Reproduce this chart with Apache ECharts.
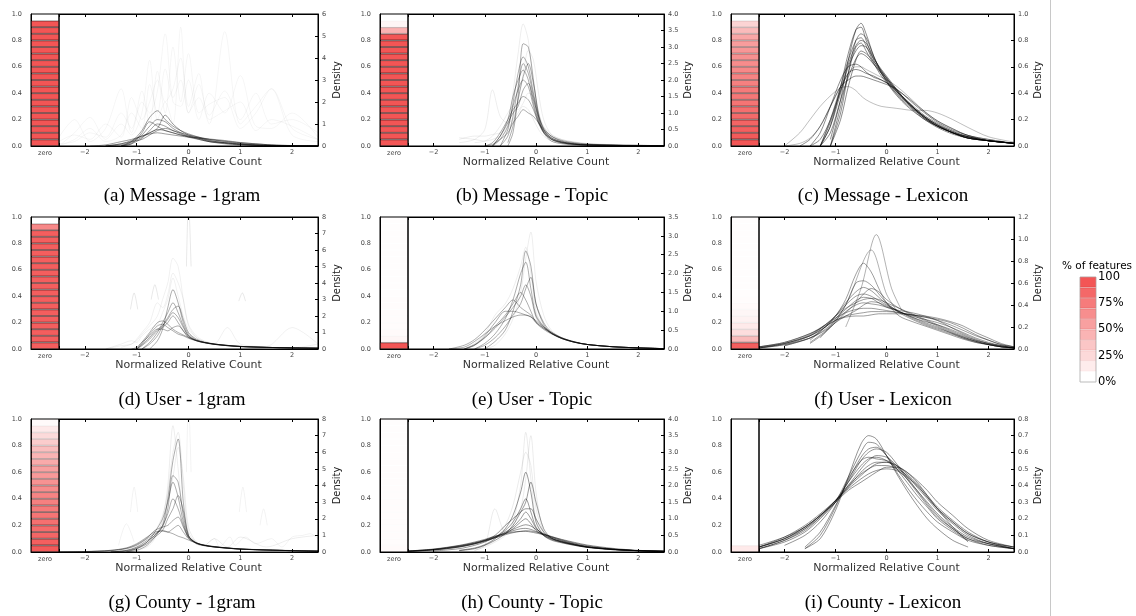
<!DOCTYPE html>
<html><head><meta charset="utf-8">
<script src="https://cdn.jsdelivr.net/npm/echarts@6/dist/echarts.min.js"></script>
<style>html,body{margin:0;padding:0;background:#fff}#c{width:1136px;height:616px}</style>
</head><body><div id="c"></div>
<script>
// ---------- DATA ----------
const captions = ['(a) Message - 1gram','(b) Message - Topic','(c) Message - Lexicon','(d) User - 1gram','(e) User - Topic','(f) User - Lexicon','(g) County - 1gram','(h) County - Topic','(i) County - Lexicon'];
const densityMax = [6, 4.0, 1.0, 8, 3.5, 1.2, 8, 4.0, 0.8];
const densityStep = [1, 0.5, 0.2, 1, 0.5, 0.2, 1, 0.5, 0.1];
const zeroCategory = ['zero'];
const zeroBandSize = 0.05;
// share of features (0..1 intensity) in each 0.05 band of the "zero" column, bottom to top
const zeroA = [1,1,1,1,1,1,1,1,1,1,1,1,1,1,1,1,1,1,1,0];
const zeroB = [1,1,1,1,1,1,1,1,1,1,1,1,1,1,1,1,1,0.45,0.06,0];
const zeroC = [1,0.97,0.94,0.91,0.88,0.85,0.82,0.8,0.78,0.75,0.73,0.7,0.68,0.65,0.62,0.58,0.52,0.4,0.25,0];
const zeroD = [0.95,0.95,0.95,0.95,0.95,0.95,0.95,0.95,0.95,0.95,0.95,0.95,0.95,0.95,0.95,0.95,0.95,0.95,0.7,0];
const zeroE = [1,0.05,0.03,0.02,0.02,0.02,0.015,0.015,0.01,0.01,0.01,0.01,0.01,0.01,0.01,0.01,0.01,0.01,0.01,0.01];
const zeroF = [0.95,0.4,0.2,0.12,0.08,0.05,0.03,0.02,0.01,0.01,0.01,0.01,0.01,0.01,0.01,0.01,0.01,0.01,0.01,0.01];
const zeroG = [0.97,0.94,0.9,0.87,0.84,0.81,0.78,0.75,0.72,0.68,0.64,0.6,0.56,0.5,0.44,0.38,0.3,0.22,0.12,0.03];
const zeroH = [0.03,0.02,0.02,0.02,0.02,0.02,0.02,0.02,0.02,0.02,0.015,0.015,0.015,0.015,0.01,0.01,0.01,0.01,0.01,0.01];
const zeroI = [0.12,0,0,0,0,0,0,0,0,0,0,0,0,0,0,0,0,0,0,0];
const legendBands = [0,0.111,0.222,0.333,0.444,0.556,0.667,0.778,0.889,1];
const legendBandSize = 10;
const legendTicks = ['0%','25%','50%','75%','100'];

// (a) Message - 1gram
const xsA = [-2.5,-2.2,-1.9,-1.6,-1.3,-1.1,-0.9,-0.75,-0.6,-0.45,-0.3,-0.15,0,0.2,0.4,0.7,1,1.3,1.6,2,2.5];
const coreA = [
 [null,null,null,null,0,0.1,0.35,0.7,1.0,0.9,0.7,0.6,0.5,0.4,0.3,0.2,0.12,0.06,0.03,0.01,0],
 [null,null,null,0,0.05,0.2,0.5,0.9,1.2,1.1,0.8,0.6,0.45,0.35,0.25,0.15,0.08,0.04,0.02,0.01,0],
 [null,null,null,null,0,0.15,0.4,0.6,0.8,1.4,1.0,0.7,0.5,0.35,0.2,0.1,0.05,0.02,0.01,0,0],
 [null,null,0,0.05,0.2,0.3,0.45,0.55,0.6,0.55,0.5,0.45,0.4,0.35,0.3,0.22,0.15,0.1,0.05,0.02,0.01],
 [null,null,null,null,0,0.1,0.6,1.1,0.9,0.7,0.6,0.5,0.45,0.3,0.2,0.12,0.06,0.03,0.01,0,0],
 [null,null,null,0,0.1,0.2,0.3,0.5,0.7,0.8,0.7,0.55,0.4,0.3,0.2,0.15,0.1,0.05,0.03,0.01,0],
 [null,null,null,null,0,0.2,0.7,1.3,1.6,1.2,0.9,0.7,0.55,0.4,0.25,0.15,0.08,0.04,0.02,0.01,0],
 [null,null,null,0,0.1,0.25,0.45,0.6,0.75,0.7,0.6,0.5,0.42,0.38,0.32,0.25,0.16,0.1,0.05,0.02,0.01]
];
const faintA = [
 [0,0.6,1.3,0.3,1.0,0.5,1.5,3.9,1.2,2.0,1.0,5.4,1.5,2.2,1.0,5.2,1.0,1.8,2.6,0.8,0.3],
 [0.4,1.2,0.2,0.8,2.6,0.6,2.0,1.5,2.5,5.1,2.0,1.8,3.0,1.2,2.4,1.5,3.2,0.9,0.8,1.5,0.4],
 [0,0.3,0.8,0.2,0.5,1.5,0.8,2.8,1.5,3.5,2.2,3.0,1.5,2.8,1.4,2.5,1.2,2.4,1.0,1.2,0.6],
 [0.2,0.5,0.3,1.0,0.4,2.2,1.2,2.0,3.0,1.5,4.5,2.0,4.2,1.5,1.9,2.2,0.8,1.5,2.6,0.5,0.2],
 [0.1,0.2,0.6,0.4,1.5,0.8,2.5,1.0,3.4,2.0,2.6,4.0,1.8,3.3,1.2,1.6,2.0,0.7,1.2,0.9,0.3]
];
const extrasA = [];
// (b) Message - Topic
const xsB = [-1.5,-1.2,-1.0,-0.85,-0.7,-0.55,-0.45,-0.35,-0.25,-0.15,-0.05,0.05,0.15,0.3,0.5,0.75,1,1.5,2,2.5];
const coreB = [
 [null,null,null,null,0,0.3,0.9,1.8,2.5,2.2,1.5,0.8,0.45,0.2,0.1,0.05,0.03,0.01,0.01,0.01],
 [null,null,null,0,0.2,0.6,1.2,1.7,2.0,1.8,1.2,0.7,0.4,0.22,0.12,0.06,0.03,0.02,0.01,0.01],
 [null,null,null,null,null,0,0.4,1.5,3.1,3.0,2.0,0.9,0.4,0.15,0.07,0.03,0.02,0.01,0,0],
 [null,null,0,0.1,0.4,0.8,1.1,1.3,1.5,1.4,1.1,0.7,0.45,0.25,0.13,0.07,0.04,0.02,0.01,0.01],
 [null,null,null,null,0,0.5,1.3,2.2,2.7,2.4,1.6,0.9,0.5,0.25,0.12,0.06,0.03,0.02,0.01,0.01],
 [null,null,null,0,0.3,0.7,1.0,1.2,1.7,1.9,1.4,0.9,0.55,0.3,0.15,0.08,0.05,0.03,0.02,0.01],
 [null,null,null,null,null,0.1,0.6,1.4,2.1,2.5,1.9,1.0,0.5,0.22,0.1,0.05,0.03,0.02,0.01,0.01],
 [null,null,0,0.05,0.2,0.4,0.7,0.9,1.1,1.0,0.9,0.7,0.5,0.3,0.17,0.1,0.06,0.03,0.02,0.01],
 [null,null,null,0,0.3,0.8,1.5,2.0,2.3,2.0,1.3,0.75,0.42,0.2,0.1,0.05,0.03,0.02,0.01,0.01]
];
const faintB = [
 [0.1,0.2,0.5,1.7,0.9,0.7,0.8,1.0,1.2,1.1,0.8,0.5,0.3,0.15,0.08,0.04,0.02,0.01,0.01,0],
 [0.2,0.3,0.3,0.35,0.4,0.6,1.6,2.8,3.7,3.2,1.8,0.8,0.4,0.2,0.12,0.06,0.04,0.02,0.01,0],
 [0.25,0.2,0.15,0.2,0.3,0.5,0.8,1.4,2.2,2.9,2.6,1.6,0.8,0.35,0.2,0.12,0.08,0.04,0.02,0.01],
 [null,0.1,0.15,0.3,0.6,1.0,1.2,1.1,1.3,1.6,1.5,1.0,0.6,0.35,0.2,0.12,0.07,0.03,0.02,0.01]
];
const extrasB = [];
// (c) Message - Lexicon
const xsC = [-2.0,-1.7,-1.5,-1.3,-1.1,-0.9,-0.75,-0.6,-0.5,-0.4,-0.25,-0.1,0.1,0.3,0.5,0.75,1.0,1.3,1.6,2.0,2.5];
const coreC = [
 [null,null,null,0,0.15,0.45,0.7,0.88,0.9,0.8,0.65,0.55,0.45,0.37,0.3,0.22,0.16,0.11,0.07,0.04,0.02],
 [null,null,null,null,0,0.3,0.55,0.75,0.78,0.72,0.62,0.55,0.46,0.37,0.3,0.22,0.16,0.1,0.07,0.04,0.02],
 [null,null,0,0.1,0.3,0.5,0.6,0.62,0.6,0.56,0.52,0.5,0.45,0.38,0.31,0.23,0.17,0.11,0.07,0.04,0.02],
 [null,null,null,0,0.2,0.45,0.65,0.8,0.85,0.82,0.68,0.56,0.44,0.35,0.28,0.2,0.15,0.1,0.06,0.04,0.02],
 [null,null,null,null,0,0.2,0.45,0.65,0.72,0.7,0.64,0.57,0.47,0.38,0.3,0.22,0.15,0.1,0.06,0.04,0.02],
 [null,null,null,null,0.05,0.35,0.65,0.88,0.93,0.85,0.68,0.55,0.43,0.34,0.27,0.2,0.14,0.09,0.06,0.04,0.02],
 [null,null,0,0.05,0.2,0.42,0.55,0.58,0.57,0.55,0.53,0.5,0.46,0.4,0.33,0.25,0.18,0.12,0.08,0.04,0.02],
 [null,0,0.05,0.15,0.3,0.45,0.5,0.53,0.53,0.52,0.5,0.48,0.45,0.4,0.34,0.26,0.19,0.13,0.08,0.05,0.02],
 [null,null,null,0,0.15,0.4,0.6,0.72,0.76,0.75,0.66,0.58,0.48,0.38,0.3,0.21,0.15,0.1,0.06,0.04,0.02],
 [null,null,null,null,0,0.25,0.55,0.8,0.82,0.76,0.63,0.53,0.44,0.36,0.29,0.21,0.15,0.1,0.06,0.04,0.02],
 [null,null,null,0,0.18,0.42,0.62,0.76,0.8,0.78,0.67,0.57,0.46,0.37,0.29,0.21,0.15,0.1,0.06,0.04,0.02],
 [null,null,null,0,0.1,0.35,0.52,0.66,0.7,0.68,0.62,0.56,0.47,0.38,0.3,0.22,0.16,0.1,0.07,0.04,0.02]
];
const faintC = [
 [0,0.1,0.2,0.3,0.38,0.44,0.45,0.42,0.38,0.35,0.32,0.3,0.29,0.28,0.27,0.27,0.25,0.2,0.14,0.07,0.03],
 [0,0.02,0.06,0.15,0.3,0.45,0.55,0.6,0.6,0.58,0.55,0.52,0.48,0.42,0.35,0.26,0.19,0.13,0.08,0.05,0.02]
];
const extrasC = [];
// (d) User - 1gram
const xsD = [-1.6,-1.3,-1.1,-1.0,-0.9,-0.75,-0.6,-0.5,-0.4,-0.3,-0.2,-0.1,0,0.15,0.3,0.5,0.75,1,1.5,2,2.5];
const coreD = [
 [null,null,null,0,0.3,0.9,1.4,1.5,1.3,1.1,0.9,0.8,0.65,0.5,0.4,0.3,0.22,0.16,0.1,0.07,0.05],
 [null,null,null,null,0,0.4,1.0,1.6,2.2,2.8,2.2,1.4,0.8,0.5,0.38,0.28,0.2,0.15,0.1,0.07,0.05],
 [null,null,null,0,0.2,0.6,1.1,1.3,1.6,2.0,1.6,1.1,0.7,0.5,0.38,0.28,0.2,0.15,0.1,0.07,0.05],
 [null,null,null,null,null,0,0.5,1.2,2.5,3.6,2.8,1.6,0.9,0.55,0.4,0.28,0.2,0.14,0.09,0.06,0.04],
 [null,null,null,0,0.4,1.0,1.6,1.7,1.5,1.2,1.0,0.85,0.7,0.52,0.4,0.3,0.22,0.16,0.1,0.07,0.05],
 [null,null,null,null,0,0.3,0.8,1.4,1.9,2.4,2.6,1.8,1.0,0.6,0.42,0.3,0.21,0.15,0.1,0.07,0.05],
 [null,null,0,0.1,0.4,0.8,1.2,1.2,1.1,1.3,1.4,1.1,0.75,0.52,0.4,0.3,0.22,0.16,0.1,0.07,0.05],
 [null,null,null,0,0.25,0.7,1.2,1.4,1.8,2.2,1.9,1.3,0.8,0.52,0.4,0.29,0.21,0.15,0.1,0.07,0.05]
];
const faintD = [
 [0,0.3,0.5,0.4,0.8,1.2,1.5,2.2,3.0,4.3,3.2,2.0,1.2,0.7,0.45,0.32,0.22,0.16,0.1,0.07,0.05],
 [0,0.2,0.3,0.6,1.0,1.6,2.8,2.5,3.3,4.6,4.0,3.0,1.5,0.8,0.5,0.33,1.3,0.3,0.15,1.3,0.3],
 [null,0.1,0.3,0.5,0.9,1.4,2.0,3.0,4.0,5.5,5.0,3.0,1.4,0.7,0.45,0.3,0.2,0.15,0.1,0.07,0.3]
];
const extrasD = [
 [[-0.04,5.0],[0.0,9.0],[0.05,5.0]],
 [[-1.12,2.4],[-1.05,3.4],[-0.98,2.4]],
 [[-0.72,3.0],[-0.65,3.9],[-0.58,3.0]],
 [[0.97,2.9],[1.04,3.4],[1.1,2.9]]
];
// (e) User - Topic
const xsE = [-1.7,-1.4,-1.2,-1.0,-0.8,-0.6,-0.45,-0.3,-0.2,-0.1,0,0.15,0.3,0.5,0.75,1,1.5,2,2.5];
const coreE = [
 [null,0,0.1,0.3,0.6,0.9,1.2,1.5,1.3,1.0,0.7,0.52,0.4,0.28,0.18,0.12,0.06,0.03,0.01],
 [null,null,0,0.15,0.4,0.8,1.3,2.0,2.3,1.6,0.9,0.6,0.42,0.28,0.18,0.12,0.06,0.03,0.01],
 [0,0.05,0.2,0.4,0.6,0.75,0.85,0.9,0.9,0.85,0.75,0.58,0.45,0.3,0.19,0.12,0.06,0.03,0.01],
 [null,null,0,0.1,0.3,0.6,0.9,1.2,1.6,1.9,1.2,0.7,0.45,0.3,0.19,0.12,0.06,0.03,0.01],
 [null,0,0.1,0.35,0.7,1.0,1.0,0.95,0.9,0.85,0.7,0.55,0.42,0.29,0.19,0.12,0.06,0.03,0.01],
 [null,null,null,0,0.2,0.5,1.0,1.7,2.6,2.2,1.2,0.65,0.42,0.28,0.18,0.12,0.06,0.03,0.01],
 [0,0.1,0.25,0.5,0.8,1.1,1.3,1.1,1.0,0.9,0.72,0.55,0.42,0.29,0.18,0.12,0.06,0.03,0.01],
 [null,0,0.12,0.3,0.55,0.85,1.1,1.4,1.7,1.4,0.85,0.58,0.42,0.28,0.18,0.12,0.06,0.03,0.01]
];
const faintE = [
 [null,null,null,0,0.1,0.4,0.8,1.5,2.4,3.1,1.8,0.9,0.5,0.3,0.18,0.12,0.06,0.03,0.01],
 [null,0,0.15,0.4,0.9,1.2,1.6,2.2,2.7,2.0,1.0,0.6,0.42,0.3,0.19,0.12,0.06,0.03,0.01]
];
const extrasE = [];
// (f) User - Lexicon
const xsF = [-2.5,-2.0,-1.5,-1.2,-1.0,-0.8,-0.6,-0.45,-0.3,-0.15,0,0.25,0.5,0.75,1.0,1.25,1.5,1.75,2.0,2.25,2.5];
const coreF = [
 [0.02,0.06,0.14,0.22,0.28,0.33,0.36,0.37,0.37,0.36,0.35,0.33,0.31,0.29,0.26,0.22,0.17,0.12,0.08,0.04,0.02],
 [0.01,0.04,0.12,0.22,0.3,0.4,0.48,0.5,0.48,0.44,0.4,0.34,0.29,0.24,0.2,0.15,0.1,0.07,0.04,0.02,0.01],
 [null,null,0.05,0.15,0.25,0.4,0.6,0.62,0.58,0.5,0.42,0.33,0.27,0.22,0.18,0.14,0.1,0.06,0.04,0.02,0.01],
 [0.02,0.05,0.12,0.2,0.26,0.3,0.32,0.33,0.34,0.34,0.34,0.33,0.31,0.29,0.27,0.24,0.19,0.13,0.08,0.04,0.02],
 [null,null,0.08,0.2,0.3,0.45,0.68,0.78,0.7,0.55,0.42,0.3,0.25,0.21,0.17,0.13,0.09,0.06,0.04,0.02,0.01],
 [0.01,0.05,0.13,0.22,0.3,0.37,0.42,0.45,0.46,0.45,0.42,0.37,0.32,0.27,0.22,0.17,0.12,0.08,0.05,0.03,0.01],
 [null,0.03,0.1,0.18,0.26,0.34,0.4,0.42,0.41,0.4,0.38,0.35,0.33,0.3,0.26,0.2,0.14,0.09,0.05,0.03,0.01],
 [0.01,0.04,0.1,0.17,0.24,0.3,0.35,0.4,0.43,0.42,0.39,0.34,0.29,0.25,0.22,0.18,0.13,0.08,0.05,0.02,0.01],
 [null,null,0.06,0.16,0.24,0.33,0.42,0.5,0.55,0.52,0.45,0.37,0.31,0.26,0.21,0.16,0.11,0.07,0.04,0.02,0.01],
 [0.02,0.06,0.14,0.21,0.26,0.29,0.3,0.3,0.31,0.32,0.32,0.32,0.31,0.3,0.28,0.25,0.21,0.15,0.1,0.05,0.02],
 [0.01,0.05,0.12,0.2,0.28,0.36,0.44,0.47,0.46,0.42,0.38,0.34,0.3,0.27,0.24,0.2,0.15,0.1,0.06,0.03,0.01],
 [null,0.03,0.1,0.2,0.3,0.42,0.52,0.56,0.53,0.47,0.41,0.34,0.28,0.23,0.19,0.15,0.11,0.07,0.04,0.02,0.01]
];
const faintF = [];
const extrasF = [
 [[-0.8,0.2],[-0.5,0.55],[-0.2,1.04],[0.1,0.55],[0.3,0.35]],
 [[-1.3,0.1],[-0.8,0.4],[-0.3,0.9],[0,0.5],[0.2,0.35]]
];
// (g) County - 1gram
const xsG = [-2.5,-2.0,-1.5,-1.2,-1.0,-0.8,-0.65,-0.5,-0.4,-0.3,-0.2,-0.1,0,0.15,0.3,0.5,0.75,1,1.5,2,2.5];
const coreG = [
 [0,0.02,0.08,0.2,0.4,0.8,1.1,1.3,1.2,1.1,0.95,0.85,0.72,0.55,0.42,0.33,0.25,0.19,0.13,0.09,0.06],
 [null,null,0,0.05,0.2,0.6,1.2,2.0,3.0,4.2,3.3,1.8,0.9,0.55,0.42,0.32,0.24,0.18,0.12,0.08,0.05],
 [null,null,0,0.1,0.3,0.7,1.0,1.6,2.3,3.2,2.6,1.6,0.9,0.55,0.4,0.31,0.24,0.18,0.12,0.08,0.05],
 [null,null,null,0,0.1,0.4,0.9,1.6,3.2,5.5,6.8,3.0,1.0,0.5,0.38,0.3,0.23,0.17,0.12,0.08,0.05],
 [0,0.02,0.1,0.25,0.5,0.9,1.2,1.25,1.2,1.4,1.6,1.2,0.8,0.52,0.4,0.31,0.24,0.18,0.12,0.08,0.05],
 [null,null,null,0,0.2,0.5,0.9,1.3,2.0,2.6,3.4,2.5,1.0,0.55,0.4,0.3,0.23,0.17,0.12,0.08,0.05],
 [0,0.03,0.1,0.22,0.45,0.85,1.3,1.5,1.6,1.9,2.1,1.5,0.85,0.54,0.41,0.31,0.24,0.18,0.12,0.08,0.05],
 [null,null,0,0.08,0.25,0.6,1.0,1.5,2.6,4.6,4.2,2.2,0.95,0.55,0.4,0.3,0.23,0.17,0.12,0.08,0.05]
];
const faintG = [
 [null,null,null,0,0.1,0.3,0.8,2.0,4.0,7.6,5.0,2.0,0.8,0.5,0.38,0.3,0.23,0.17,0.12,0.08,0.05],
 [null,null,0,0.1,0.2,0.5,1.0,1.8,3.0,4.5,6.3,4.5,1.5,0.6,0.4,0.8,0.3,0.9,0.3,0.8,1.0],
 [null,null,0,0.1,0.3,0.6,1.2,2.2,3.6,6.0,7.2,4.0,1.2,0.6,0.4,0.3,0.23,0.17,0.12,0.08,0.05]
];
const extrasG = [
 [[-0.04,4.8],[0.0,9.0],[0.05,4.8]],
 [[-1.12,2.4],[-1.05,3.9],[-0.98,2.4]],
 [[0.98,2.4],[1.05,3.9],[1.12,2.4]],
 [[1.38,1.6],[1.45,2.6],[1.52,1.6]],
 [[-1.35,0.4],[-1.2,1.7],[-1.05,0.6]],
 [[0.3,0.3],[0.5,0.8],[0.6,0.3],[0.8,0.9],[0.9,0.4],[1.1,0.9],[1.3,0.5],[1.6,0.8],[1.8,0.3],[2.0,0.9],[2.2,1.0],[2.35,1.1],[2.5,0.8]]
];
// (h) County - Topic
const xsH = [-2.5,-2.0,-1.5,-1.2,-1.0,-0.8,-0.6,-0.45,-0.3,-0.2,-0.1,0,0.15,0.3,0.5,0.75,1,1.5,2,2.5];
const coreH = [
 [0.02,0.07,0.17,0.26,0.34,0.43,0.52,0.58,0.62,0.64,0.63,0.6,0.54,0.47,0.37,0.27,0.19,0.09,0.04,0.02],
 [0.03,0.08,0.19,0.28,0.36,0.46,0.56,0.64,0.7,0.71,0.68,0.62,0.53,0.44,0.34,0.24,0.16,0.08,0.04,0.02],
 [0.02,0.06,0.15,0.24,0.32,0.42,0.55,0.7,0.9,1.0,0.85,0.65,0.5,0.4,0.31,0.22,0.15,0.08,0.04,0.02],
 [null,0.03,0.1,0.2,0.3,0.45,0.65,0.9,1.3,1.6,1.2,0.75,0.5,0.38,0.3,0.22,0.15,0.08,0.04,0.02],
 [null,null,0.05,0.12,0.22,0.4,0.7,1.1,1.8,2.4,1.8,0.9,0.5,0.36,0.28,0.2,0.14,0.07,0.04,0.02],
 [0.03,0.09,0.2,0.3,0.38,0.48,0.55,0.6,0.62,0.62,0.6,0.57,0.52,0.46,0.38,0.29,0.21,0.11,0.05,0.03],
 [null,null,0.04,0.1,0.2,0.35,0.55,0.8,1.2,1.5,2.1,1.5,0.7,0.42,0.3,0.21,0.14,0.07,0.04,0.02],
 [0.02,0.06,0.15,0.25,0.35,0.5,0.8,1.0,1.2,1.3,1.3,1.0,0.6,0.42,0.32,0.23,0.15,0.08,0.04,0.02],
 [0.03,0.08,0.18,0.27,0.35,0.45,0.58,0.68,0.78,0.82,0.78,0.68,0.55,0.45,0.35,0.25,0.17,0.09,0.04,0.02],
 [0.02,0.07,0.16,0.25,0.33,0.44,0.6,0.75,1.0,1.2,1.0,0.72,0.52,0.41,0.31,0.22,0.15,0.08,0.04,0.02]
];
const faintH = [
 [null,null,null,0.05,0.15,0.3,0.5,0.9,2.0,3.6,2.2,1.0,0.5,0.35,0.27,0.2,0.14,0.07,0.03,0.02],
 [null,null,null,0.05,0.2,1.3,0.6,0.8,1.3,2.2,3.5,1.8,0.6,0.4,0.28,0.2,0.14,0.07,0.03,0.02],
 [null,null,0.05,0.1,0.2,0.4,0.8,1.4,2.4,3.0,2.6,1.3,0.6,0.38,0.28,0.2,0.14,0.07,0.03,0.02]
];
const extrasH = [];
// (i) County - Lexicon
const xsI = [-2.5,-2.0,-1.6,-1.3,-1.0,-0.75,-0.5,-0.35,-0.2,0,0.2,0.4,0.6,0.8,1.0,1.3,1.6,2.0,2.5];
const coreI = [
 [0.03,0.08,0.15,0.22,0.31,0.38,0.44,0.47,0.49,0.5,0.49,0.45,0.4,0.33,0.26,0.18,0.11,0.06,0.02],
 [0.02,0.07,0.13,0.21,0.31,0.42,0.52,0.56,0.57,0.55,0.5,0.44,0.37,0.3,0.23,0.15,0.09,0.05,0.02],
 [null,null,0.02,0.08,0.25,0.45,0.65,0.7,0.68,0.58,0.47,0.37,0.28,0.2,0.14,0.07,0.03,null,null],
 [0.03,0.09,0.16,0.23,0.31,0.39,0.46,0.5,0.53,0.54,0.52,0.47,0.41,0.34,0.27,0.19,0.12,0.06,0.03],
 [0.02,0.06,0.12,0.2,0.3,0.42,0.55,0.6,0.62,0.6,0.53,0.45,0.37,0.29,0.22,0.14,0.08,0.04,0.02],
 [null,0.04,0.1,0.18,0.3,0.45,0.6,0.66,0.65,0.58,0.48,0.39,0.31,0.24,0.18,0.12,0.07,0.04,0.02],
 [0.04,0.09,0.15,0.22,0.3,0.37,0.42,0.45,0.48,0.51,0.51,0.48,0.43,0.37,0.3,0.22,0.14,0.07,0.03],
 [0.03,0.08,0.14,0.21,0.3,0.39,0.48,0.52,0.54,0.54,0.51,0.46,0.39,0.32,0.25,0.17,0.1,0.05,0.02],
 [null,null,0.03,0.12,0.28,0.43,0.57,0.62,0.63,0.58,0.5,0.42,0.34,0.27,0.2,0.13,0.07,null,null],
 [0.02,0.07,0.14,0.22,0.31,0.4,0.5,0.55,0.58,0.57,0.52,0.44,0.36,0.28,0.21,0.14,0.08,0.05,0.02],
 [null,null,0.02,0.1,0.27,0.44,0.55,0.57,0.56,0.55,0.52,0.48,0.42,0.34,0.26,0.15,0.06,null,null],
 [0.03,0.08,0.15,0.22,0.3,0.4,0.47,0.5,0.52,0.52,0.5,0.46,0.4,0.33,0.26,0.18,0.11,0.06,0.03]
];
const faintI = [];
const extrasI = [];

// ---------- LAYOUT / STYLE ----------
const panels = [
 {xs:xsA, core:coreA, faint:faintA, extras:extrasA, zero:zeroA, ca:0.38, fa:0.04, ea:0.05},
 {xs:xsB, core:coreB, faint:faintB, extras:extrasB, zero:zeroB, ca:0.32, fa:0.07, ea:0.06},
 {xs:xsC, core:coreC, faint:faintC, extras:extrasC, zero:zeroC, ca:0.45, fa:0.25, ea:0.2},
 {xs:xsD, core:coreD, faint:faintD, extras:extrasD, zero:zeroD, ca:0.32, fa:0.06, ea:0.09},
 {xs:xsE, core:coreE, faint:faintE, extras:extrasE, zero:zeroE, ca:0.32, fa:0.07, ea:0.06},
 {xs:xsF, core:coreF, faint:faintF, extras:extrasF, zero:zeroF, ca:0.38, fa:0.25, ea:0.3},
 {xs:xsG, core:coreG, faint:faintG, extras:extrasG, zero:zeroG, ca:0.32, fa:0.07, ea:0.05},
 {xs:xsH, core:coreH, faint:faintH, extras:extrasH, zero:zeroH, ca:0.4, fa:0.08, ea:0.07},
 {xs:xsI, core:coreI, faint:faintI, extras:extrasI, zero:zeroI, ca:0.42, fa:0.25, ea:0.2}
];
const COLS = [{zl:31,zr:59,dr:318,cx:177},{zl:380,zr:408,dr:664,cx:527},{zl:731,zr:759,dr:1014,cx:878}];
const ROWS = [{t:14,b:146,cap:193},{t:217,b:349,cap:397},{t:419,b:552,cap:600}];
const RED = [243,85,85];
const tickFont = {fontSize:6.5, color:'#444', fontFamily:'DejaVu Sans'};
const minus = v => (v < 0 ? '\u2212' + Math.abs(v) : '' + v);

const grid = [], xAxis = [], yAxis = [], series = [], title = [];
panels.forEach((p, i) => {
  const c = COLS[i % 3], r = ROWS[Math.floor(i / 3)];
  const h = r.b - r.t;
  grid.push({left:c.zl, top:r.t, width:c.zr - c.zl, height:h, show:true, borderColor:'#000', borderWidth:1, backgroundColor:'transparent'});
  grid.push({left:c.zr, top:r.t, width:c.dr - c.zr, height:h, show:true, borderColor:'#000', borderWidth:1, backgroundColor:'transparent'});
  const gz = 2 * i, gd = 2 * i + 1;
  xAxis.push({type:'category', gridIndex:gz, data:zeroCategory, axisLine:{onZero:false, lineStyle:{color:'#000'}}, axisTick:{show:false},
    axisLabel:Object.assign({margin:4}, tickFont)});
  yAxis.push({type:'value', gridIndex:gz, min:0, max:1, interval:0.2, position:'left',
    axisLine:{show:true, onZero:false, lineStyle:{color:'#000'}}, axisTick:{inside:true, length:3, lineStyle:{color:'#000'}}, splitLine:{show:false},
    axisLabel:Object.assign({margin:9, formatter:v => v.toFixed(1)}, tickFont)});
  const xCommon = {type:'value', gridIndex:gd, min:-2.5, max:2.5, splitNumber:5, splitLine:{show:false},
    axisLine:{show:true, onZero:false, lineStyle:{color:'#000'}}, axisTick:{inside:true, length:3, lineStyle:{color:'#000'}}};
  xAxis.push(Object.assign({}, xCommon, {position:'bottom', name:'Normalized Relative Count', nameLocation:'middle', nameGap:10,
    nameTextStyle:{fontSize:11, color:'#333', fontFamily:'DejaVu Sans'}, showMinLabel:false, showMaxLabel:false,
    axisLabel:Object.assign({margin:3, formatter:v => Number.isInteger(v) ? minus(v) : ''}, tickFont)}));
  xAxis.push(Object.assign({}, xCommon, {position:'top', axisLabel:{show:false}}));
  const dec = densityStep[i] < 1 ? 1 : 0;
  yAxis.push({type:'value', gridIndex:gd, min:0, max:densityMax[i], interval:densityStep[i], position:'right',
    name:'Density', nameLocation:'middle', nameRotate:90, nameGap:14,
    nameTextStyle:{fontSize:11, color:'#222', fontFamily:'Liberation Sans Narrow, DejaVu Sans Condensed, sans-serif'},
    axisLine:{show:true, onZero:false, lineStyle:{color:'#000'}}, axisTick:{inside:true, length:3, lineStyle:{color:'#000'}}, splitLine:{show:false},
    axisLabel:Object.assign({margin:4, formatter:v => v.toFixed(dec)}, tickFont)});
  const xz = 3 * i, xd = 3 * i + 1;
  p.zero.forEach((a, b) => {
    series.push({type:'bar', xAxisIndex:xz, yAxisIndex:gz, stack:'z' + i, data:[zeroBandSize], barWidth:'100%', silent:true,
      itemStyle:{color:`rgba(${RED[0]},${RED[1]},${RED[2]},${a})`, borderColor:`rgba(0,0,0,${Math.min(0.6, a * 0.6)})`, borderWidth:a > 0 ? 0.8 : 0}});
  });
  const addLine = (pts, alpha) => series.push({type:'line', xAxisIndex:xd, yAxisIndex:gd, data:pts, showSymbol:false, smooth:0.3,
    silent:true, clip:true, lineStyle:{color:`rgba(0,0,0,${alpha})`, width:1}});
  const toPts = ys => p.xs.map((x, k) => ys[k] == null ? null : [x, ys[k]]).filter(d => d);
  p.faint.forEach(ys => addLine(toPts(ys), p.fa));
  p.extras.forEach(pts => addLine(pts, p.ea));
  p.core.forEach(ys => addLine(toPts(ys), p.ca));
  title.push({text:captions[i], left:c.cx, top:r.cap - 11, textAlign:'center',
    textStyle:{fontSize:19, fontWeight:'normal', color:'#000', fontFamily:'Liberation Serif, serif'}});
});
grid.push({left:1080, top:277, width:16, height:105, show:true, borderColor:'#bbb', borderWidth:1, backgroundColor:'transparent'});
xAxis.push({type:'category', gridIndex:18, data:['pct'], show:false});
yAxis.push({type:'value', gridIndex:18, min:0, max:100, interval:25, position:'right', splitLine:{show:false},
  axisLine:{show:false}, axisTick:{show:false},
  axisLabel:{margin:2, fontSize:11.5, color:'#000', fontFamily:'DejaVu Sans', formatter:v => legendTicks[Math.round(v / 25)]}});
legendBands.forEach(a => series.push({type:'bar', xAxisIndex:27, yAxisIndex:18, stack:'leg', data:[legendBandSize], barWidth:'100%', silent:true,
  itemStyle:{color:`rgba(${RED[0]},${RED[1]},${RED[2]},${a})`, borderColor:`rgba(200,60,60,${a * 0.5})`, borderWidth:a > 0 ? 0.8 : 0}}));
title.push({text:'% of features', left:1092, top:256, textAlign:'center',
  textStyle:{fontSize:10.5, fontWeight:'normal', color:'#000', fontFamily:'DejaVu Sans'}});

const chart = echarts.init(document.getElementById('c'), null, {renderer:'canvas'});
chart.setOption({
  backgroundColor:'#fff', animation:false, title, grid, xAxis, yAxis, series,
  graphic:[{type:'line', shape:{x1:1050.5, y1:0, x2:1050.5, y2:616}, style:{stroke:'#c8c8c8', lineWidth:1}, silent:true}]
});
</script></body></html>
